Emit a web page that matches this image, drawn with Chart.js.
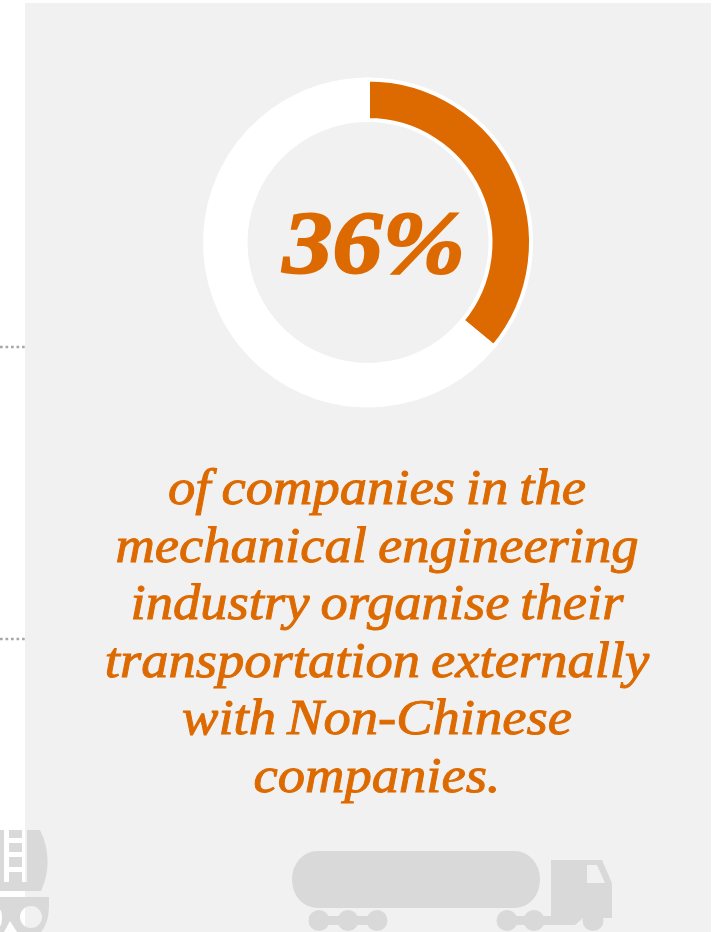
<!DOCTYPE html>
<html>
<head>
<meta charset="utf-8">
<script src="https://cdn.jsdelivr.net/npm/chart.js@4"></script>
<style>
  html, body { margin: 0; padding: 0; background: #fff; overflow: hidden; }
  #page { position: relative; width: 718px; height: 932px; overflow: hidden; }
  #panel { position: absolute; left: 25px; top: 3px; width: 686px; height: 929px; background: #f1f1f1; }
  #ring { position: absolute; left: 0; top: 0; }
  #decor { position: absolute; left: 0; top: 0; }
  #caption { position: absolute; left: 26px; top: 0; width: 702px; color: #dd6a00;
    font: italic 400 51px "Liberation Serif", serif; text-align: center;
    -webkit-text-stroke: 1px #dd6a00; word-spacing: -2.5px;
    transform: scaleX(1.07); transform-origin: 351px 0; }
  #caption div { position: absolute; left: 0; width: 100%; line-height: 58px; white-space: nowrap; }
</style>
</head>
<body>
<div id="page">
  <div id="panel"></div>
  <svg id="decor" width="718" height="932" fill="#d9d9d9">
    <g stroke="#a8a8a8" stroke-width="2.6" stroke-dasharray="2.7 2.8" fill="none">
      <line x1="0" y1="347" x2="25" y2="347"></line>
      <line x1="0" y1="639" x2="25" y2="639"></line>
    </g>
    <!-- road tanker, cut off by the page's left edge -->
    <path fill-rule="evenodd" d="M0 830H40C50 850 50 872 41 891H0Z
      M4 830V882H9V872H22V882H27V830H22V838H9V830Z
      M9 843H22V852H9Z M9 857H22V867H9Z"></path>
    <path fill-rule="evenodd" d="M0 897H49V905C49 915 47 925 41 932H17L10 921L4 932H0Z
      M31 906A11 11 0 1 0 31 928A11 11 0 1 0 31 906Z
      M0 910A2 8 0 0 1 0 926Z"></path>
    <!-- tanker lorry along the bottom -->
    <rect x="292" y="851" width="248" height="57" rx="25" ry="28"></rect>
    <path d="M309 916H386V925H309Z"></path>
    <circle cx="319" cy="920.5" r="10.5"></circle>
    <circle cx="348" cy="920.5" r="10.5"></circle>
    <circle cx="377" cy="920.5" r="10.5"></circle>
    <circle cx="507" cy="920.5" r="10.5"></circle>
    <circle cx="534" cy="920.5" r="10.5"></circle>
    <circle cx="593" cy="920.5" r="10.5"></circle>
    <path fill-rule="evenodd" d="M551 860H602L612 883V918H603V925H590V918H583L575 925H507V916H551Z
      M587 865H597L605 883H587Z"></path>
  </svg>
  <canvas id="ring" width="736" height="485"></canvas>
  <div id="caption"></div>
</div>
<script>
  // Share of companies shipping through non-Chinese carriers, and the remainder
  const shareLabels = ['Non-Chinese companies', 'Other'];
  const shareValues = [36, 64];
  const sliceColors = ['#dd6a00', '#ffffff'];
  const captionLines = [
    'of companies in the',
    'mechanical engineering',
    'industry organise their',
    'transportation externally',
    'with Non-Chinese',
    'companies.'
  ];

  const captionBox = document.getElementById('caption');
  captionLines.forEach((text, i) => {
    const line = document.createElement('div');
    line.textContent = text;
    line.style.top = (458 + i * 57.6) + 'px';
    captionBox.appendChild(line);
  });

  // Writes the headline percentage in the hole of the ring
  const centreLabel = {
    id: 'centreLabel',
    afterDraw(chart) {
      const arc = chart.getDatasetMeta(0).data[0];
      const ctx = chart.ctx;
      ctx.save();
      ctx.translate(arc.x + 6, arc.y + 29);
      ctx.scale(1.13, 1);
      ctx.fillStyle = sliceColors[0];
      ctx.strokeStyle = sliceColors[0];
      ctx.lineWidth = 2;
      ctx.font = 'italic bold 88px "Liberation Serif", serif';
      ctx.textAlign = 'center';
      ctx.textBaseline = 'alphabetic';
      ctx.fillText(shareValues[0] + '%', 0, 0);
      ctx.strokeText(shareValues[0] + '%', 0, 0);
      ctx.restore();
    }
  };

  new Chart(document.getElementById('ring'), {
    type: 'doughnut',
    data: {
      labels: shareLabels,
      datasets: [{
        data: shareValues,
        backgroundColor: sliceColors,
        borderColor: '#ffffff',
        borderWidth: 4,
        borderJoinStyle: 'miter'
      }]
    },
    options: {
      responsive: false,
      animation: false,
      radius: 163,
      cutout: '75.15%',
      plugins: { legend: { display: false }, tooltip: { enabled: false } }
    },
    plugins: [centreLabel]
  });
</script>
</body>
</html>
